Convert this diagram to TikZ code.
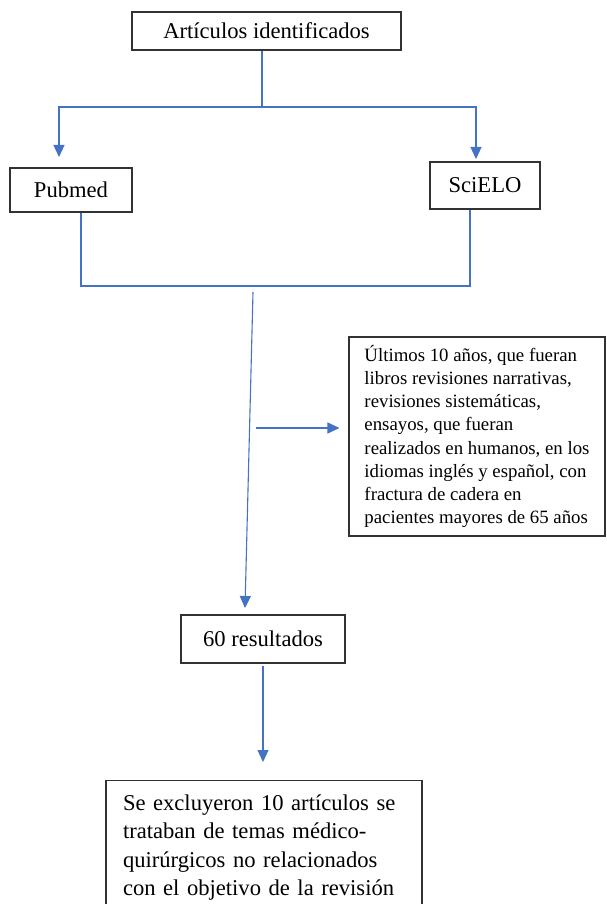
\documentclass[tikz,border=0pt]{standalone}
\usepackage{fontspec}
\setmainfont{Liberation Serif}
\usepackage{tikz}
\usetikzlibrary{arrows.meta, positioning, calc}
\definecolor{lineblue}{RGB}{68,114,196}
\definecolor{boxgray}{RGB}{50,50,50}

\begin{document}
\begin{tikzpicture}[
    x=1pt, y=-1pt,
    >={Triangle[length=12pt, width=11pt]},
    box/.style={draw=boxgray, line width=1.1pt, inner sep=0pt, align=center, font=\fontsize{22.6}{28.3}\selectfont},
    link/.style={lineblue, line width=1.1pt},
]
    \useasboundingbox (0,0) rectangle (606,904);
    \clip (0,0) rectangle (606,904);

    \node[box, minimum width=269, minimum height=38] (ident) at (266.5, 31) {Artículos identificados};
    \node[box, minimum width=122, minimum height=44] (pubmed) at (71, 190) {Pubmed};
    \node[box, minimum width=110, minimum height=47] (scielo) at (485, 185.5) {SciELO};
    \node[box, minimum width=256, minimum height=199, align=left, font=\fontsize{18.8}{23.2}\selectfont] (criterios) at (477, 436.5) {
        Últimos 10 años, que fueran\\
        libros revisiones narrativas,\\
        revisiones sistemáticas,\\
        ensayos, que fueran\\
        realizados en humanos, en los\\
        idiomas inglés y español, con\\
        fractura de cadera en\\
        pacientes mayores de 65 años
    };
    \node[box, minimum width=164, minimum height=48] (resultados) at (263, 639) {60 resultados};
    \node[box, anchor=north, text width=282, inner xsep=17, inner ysep=10, text height=20, text depth=150, align=left] (excluidos) at (264, 780) {
        Se excluyeron 10 artículos se\\
        trataban de temas médico-\\
        quirúrgicos no relacionados\\
        con el objetivo de la revisión
    };

    \coordinate (split) at (262, 107);
    \coordinate (pubin) at (59, 157);
    \coordinate (sciin) at (476, 159);
    \draw[link] (split |- ident.south) -- (split);
    \draw[link, ->] (split) -| (pubin);
    \draw[link, ->] (split) -| (sciin);

    \coordinate (joinL) at (81, 286);
    \coordinate (joinR) at (470, 286);
    \draw[link] (pubmed.south -| joinL) -- (joinL) -- (joinR) -- (scielo.south -| joinR);

    \coordinate (trunk) at (253, 292);
    \coordinate (resin) at (245, 608);
    \draw[link, ->] (trunk) -- (resin);
    \coordinate (side) at (256, 428);
    \draw[link, ->, shorten >=9pt] (side) -- (side -| criterios.west);
    \draw[link, ->, shorten <=2pt, shorten >=18pt] (resultados.south) -- (resultados.south |- excluidos.north);
\end{tikzpicture}
\end{document}
